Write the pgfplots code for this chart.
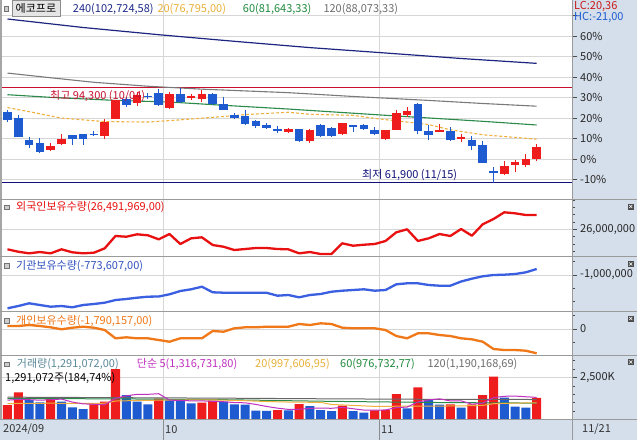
\documentclass[border=0pt]{standalone}
\usepackage{fontspec}
\setmainfont{Noto Sans CJK KR}
\usepackage{pgfplots}
\pgfplotsset{compat=1.18}
\usepackage{pgfplotstable}

\definecolor{candred}{HTML}{EE1C1C}
\definecolor{candblue}{HTML}{1E5BD0}
\definecolor{strip}{HTML}{D5DFEB}
\definecolor{gridc}{HTML}{D6D6D6}
\definecolor{sep}{HTML}{9A9A9A}
\definecolor{maA}{HTML}{1C2580}
\definecolor{maB}{HTML}{7A7A7A}
\definecolor{maC}{HTML}{2A8A4A}
\definecolor{maD}{HTML}{F0B040}
\definecolor{hiline}{HTML}{C8102E}
\definecolor{loline}{HTML}{10107A}
\definecolor{fored}{HTML}{E81010}
\definecolor{instblue}{HTML}{3A5FE0}
\definecolor{indorange}{HTML}{F07818}
\definecolor{volfive}{HTML}{C030C0}
\definecolor{volttl}{HTML}{5A8A9A}
\definecolor{tA}{HTML}{1E2A8A}
\definecolor{tD}{HTML}{E8B13A}
\definecolor{tC}{HTML}{1F8A3C}
\definecolor{tB}{HTML}{6E6E6E}

\newcommand{\ff}{\fontsize{11}{13}\selectfont}

% ---------------- price candles (index, open, high, low, close) ----------------
\pgfplotstableread{
i o h l c
4 73000 75500 72700 74400
5 75200 78500 74700 77000
9 77900 83600 76700 82700
10 83800 90300 83600 90200
12 89000 92900 88300 91900
15 87500 93100 87100 92200
17 91100 92300 90100 91500
18 90400 93500 89500 92300
26 79200 80500 78900 80400
28 76100 80400 75500 79800
31 78500 82300 78100 82200
35 77000 80000 76400 79900
36 79900 86700 79800 85800
37 85000 87800 84400 86300
40 79400 82100 79200 79800
42 77100 78700 75800 77500
46 65000 69200 64400 67500
47 67900 69600 65600 69000
48 68100 71800 67300 69900
49 70100 75200 69200 74100
}\redc
\pgfplotstableread{
i o h l c
0 86100 86700 82700 83500
1 84000 85000 77500 77600
2 76400 77500 73900 74700
3 75500 77200 72200 72300
6 78100 78300 74700 76700
7 78500 78600 74900 76700
8 78700 79500 77900 78300
11 90600 91200 87800 88400
13 91700 92600 90500 91300
14 92600 94000 88300 88500
16 92300 94300 89300 89400
19 92300 92600 88600 88700
20 88700 91200 86700 86800
21 85200 85800 83800 84100
22 84700 86700 81500 82100
23 83000 83500 80700 81300
24 81500 82300 80200 80600
25 80200 81200 78900 79800
27 80200 80300 75800 76100
29 81500 82100 77500 77800
30 80700 80800 77500 77900
32 81600 81700 79200 81200
33 81500 82100 79800 80200
34 79800 81000 78100 78700
38 88900 89000 78700 79600
39 79600 81500 76400 78300
41 79500 81000 76100 76400
43 76400 77900 73000 74400
44 74700 76100 68600 68700
45 65800 67300 61900 65400
}\bluec

% ---------------- holdings ----------------
\pgfplotstableread{
i f n p
0 25312000 -2255000 221000
1 25229000 -2168700 221000
2 25174000 -2066900 294700
3 25219000 -2131000 221000
4 25174000 -2195000 125200
5 25312000 -2169000 -22100
6 25209000 -2218000 95800
7 25174000 -2131000 169400
8 25195000 -2093000 95800
9 25346000 -2044000 -73700
10 25770000 -1942500 -685100
11 25745000 -1905000 -611500
12 25828000 -1856000 -685100
13 25794000 -1818000 -685100
14 25656000 -1810000 -810400
15 25838000 -1728000 -935600
16 25494000 -1603000 -685100
17 25690000 -1539000 -685100
18 25725000 -1441000 -685100
19 25460000 -1652000 -147300
20 25401000 -1667000 -198900
21 25288000 -1667000 51600
22 25322000 -1670000 125200
23 25357000 -1667000 125200
24 25357000 -1672000 169400
25 25322000 -1780000 169400
26 25312000 -1754000 169400
27 25174000 -1841000 368400
28 25219000 -1754000 294700
29 25150000 -1716000 419900
30 25150000 -1630000 368400
31 25518000 -1592000 95800
32 25436000 -1565500 51600
33 25470000 -1539000 51600
34 25494000 -1592000 51600
35 25598000 -1565500 -73700
36 25897000 -1350600 -515700
37 26000000 -1313000 -685100
38 25598000 -1313000 -316800
39 25690000 -1377000 -316800
40 25838000 -1403400 -442000
41 25770000 -1403400 -515700
42 26010000 -1245000 -685100
43 25780000 -1139000 -758800
44 26172000 -1049000 -935600
45 26354000 -1000000 -1473400
46 26585000 -988700 -1547100
47 26550000 -962300 -1547100
48 26492000 -898200 -1598600
49 26491969 -773607 -1790157
}\hold

% ---------------- volume ----------------
\pgfplotstableread{
i v
0 863000
1 1619000
4 1220000
8 905000
9 1060000
10 3006000
14 1250000
18 1000000
19 1119000
25 560000
27 923000
31 821000
34 545000
35 565000
36 1518000
38 1917000
41 905000
43 905000
44 1458000
45 2548000
49 1291072
}\volr
\pgfplotstableread{
i v
2 1161000
3 1024000
5 1060000
6 726000
7 625000
11 1458000
12 1060000
13 905000
15 1180000
16 1150000
17 964000
20 1060000
21 905000
22 880000
23 524000
24 510000
26 540000
28 804000
29 565000
30 506000
32 506000
33 405000
37 667000
39 1161000
40 880000
42 702000
46 1298000
47 762000
48 702000
}\volb

\pgfplotsset{
 panel/.style={
  scale only axis, width=570pt, anchor=north west,
  xmin=-0.5093, xmax=52.269,
  axis line style={draw=none},
  xtick=\empty,
  ymajorgrids, major grid style={draw=gridc, line width=0.8pt},
  ytick pos=right, yticklabel pos=right, tick align=outside,
  major tick length=5pt, minor tick length=3pt,
  every tick/.style={draw=black!70, line width=0.6pt},
  scaled y ticks=false,
  /pgf/number format/assume math mode=true,
  yticklabel style={font=\ff, anchor=west, inner sep=0pt, xshift=3pt, text=black!85},
 },
 wick/.style={forget plot, only marks, mark=*, mark options={draw opacity=0, fill opacity=0},
   error bars/.cd, y dir=both, y explicit, error mark=none,
   error bar style={#1, line width=1pt, draw opacity=1}},
 body/.style={forget plot, only marks, mark=*, mark options={draw opacity=0, fill opacity=0},
   error bars/.cd, y dir=both, y explicit, error mark=none,
   error bar style={#1, line width=8.5pt, draw opacity=1}},
}

\begin{document}
\begin{tikzpicture}[font=\ff]
\path[use as bounding box] (0pt,0pt) rectangle (637pt,-440pt);
\begin{scope}[x=1pt,y=-1pt]
\fill[white] (0,0) rectangle (637,440);
\fill[strip] (572,0) rectangle (637,440);
\fill[strip] (0,419.5) rectangle (637,440);
\fill[black!35] (0,0) rectangle (2,419.5);
\draw[gridc, line width=0.8pt] (163.3,0) -- (163.3,419.5) (379.3,0) -- (379.3,419.5);
\draw[black!45, line width=0.8pt] (163.3,419.5) -- (163.3,440) (379.3,419.5) -- (379.3,440);
\end{scope}

% ================= price =================
\begin{axis}[panel, at={(2pt,0pt)}, height=199pt,
  ymin=56324, ymax=124400,
  ytick={63000,70000,77000,84000,91000,98000,105000,112000,119000},
  yticklabels={-10\%,0\%,10\%,20\%,30\%,40\%,50\%,60\%,{}}]
\addplot[hiline, line width=1pt] coordinates {(-0.6,94300) (52.4,94300)};
\addplot[loline, line width=1.3pt] coordinates {(-0.6,61900) (52.4,61900)};
\addplot[maA, line width=1.2pt] coordinates {(0,117900) (7,114994) (14,112531) (21,110273) (28,108118) (35,106270) (42,104389) (49,102725)};
\addplot[maB, line width=1.1pt] coordinates {(0,99400) (4,97800) (8,96250) (13,94900) (18,93900) (26,92700) (32,91400) (39,90050) (44,89000) (49,88073)};
\addplot[maC, line width=1.1pt] coordinates {(0,92000) (4,91100) (10,90050) (15,89500) (20,88380) (26,87100) (35,84960) (44,82900) (49,81643)};
\addplot[maD, line width=1.1pt, dashed, dash pattern=on 3pt off 2pt] coordinates {(0,87600) (2,86200) (5,84000) (9,82800) (13,82650) (16,83400) (20,84550) (22,85200) (26,86000) (28,85300) (32,84950) (34,83900) (39,81800) (41,80000) (44,78300) (49,76795)};
\addplot[wick=candred] table[x=i, y expr={(\thisrow{h}+\thisrow{l})/2}, y error expr={(\thisrow{h}-\thisrow{l})/2}] {\redc};
\addplot[body=candred] table[x=i, y expr={(\thisrow{o}+\thisrow{c})/2}, y error expr={(\thisrow{c}-\thisrow{o})/2}] {\redc};
\addplot[wick=candblue] table[x=i, y expr={(\thisrow{h}+\thisrow{l})/2}, y error expr={(\thisrow{h}-\thisrow{l})/2}] {\bluec};
\addplot[body=candblue] table[x=i, y expr={(\thisrow{o}+\thisrow{c})/2}, y error expr={(\thisrow{o}-\thisrow{c})/2}] {\bluec};
\end{axis}

% ================= foreign =================
\begin{axis}[panel, at={(2pt,-199pt)}, height=57pt,
  ymin=25082000, ymax=27042000,
  ytick={26000000}, yticklabels={26{,}000{,}000},
  minor ytick={25250000,25500000,25750000,26250000,26500000,26750000,27000000}]
\addplot[fored, line width=2.3pt, line join=round] table[x=i, y=f] {\hold};
\end{axis}

% ================= institution =================
\begin{axis}[panel, at={(2pt,-256pt)}, height=55pt,
  ymin=-2357200, ymax=-283700,
  ytick={-1000000}, yticklabels={-1{,}000{,}000},
  minor ytick={-2000000,-1500000,-500000}]
\addplot[instblue, line width=2.3pt, line join=round] table[x=i, y=n] {\hold};
\end{axis}

% ================= individual =================
\begin{axis}[panel, at={(2pt,-311pt)}, height=44pt,
  ymin=-1915000, ymax=1326000,
  ytick={0}, yticklabels={0},
  minor ytick={-1000000,1000000}]
\addplot[indorange, line width=2.3pt, line join=round] table[x=i, y=p] {\hold};
\end{axis}

% ================= volume =================
\begin{axis}[panel, at={(2pt,-355pt)}, height=64.5pt,
  ymin=0, ymax=3839000,
  ytick={2500000}, yticklabels={2{,}500K},
  minor ytick={500000,1000000,1500000,2000000,3000000,3500000}]
\addplot[ybar, bar width=9pt, bar shift=0pt, fill=candred, draw=none] table[x=i, y=v] {\volr};
\addplot[ybar, bar width=9pt, bar shift=0pt, fill=candblue, draw=none] table[x=i, y=v] {\volb};
\addplot[black!60, line width=1pt] coordinates {(0,1330000) (10,1300000) (20,1270000) (30,1230000) (40,1200000) (49,1190169)};
\addplot[maC, line width=1pt] coordinates {(0,1250000) (10,1230000) (20,1180000) (30,1080000) (40,1010000) (49,976733)};
\addplot[maD, line width=1pt] coordinates {(0,950000) (2,960000) (4,970000) (6,960000) (8,960000) (9,970000) (10,1100000) (12,1130000) (14,1150000) (16,1160000) (19,1168000) (22,1120000) (24,1070000) (26,1040000) (29,1019000) (30,894000) (32,840000) (34,780000) (36,790000) (39,796000) (42,810000) (44,843000) (45,940000) (47,975000) (49,997607)};
\addplot[volfive, line width=1pt] coordinates {(0,1150000) (1,1200000) (2,1180000) (3,1150000) (4,1177000) (5,1217000) (6,1038000) (7,931000) (8,907000) (9,875000) (10,1264000) (11,1411000) (12,1498000) (13,1498000) (14,1536000) (15,1153000) (16,1133000) (17,1112000) (18,1109000) (19,1083000) (20,1059000) (21,1010000) (22,994000) (23,898000) (24,776000) (25,676000) (26,603000) (27,611000) (28,666000) (29,678000) (30,668000) (31,724000) (32,640000) (33,561000) (34,557000) (35,569000) (36,708000) (37,740000) (38,1042000) (39,1166000) (40,1229000) (41,1106000) (42,1113000) (43,914000) (44,973000) (45,1304000) (46,1382000) (47,1394000) (48,1354000) (49,1316732)};
\end{axis}

% ================= decorations & text =================
\begin{scope}[x=1pt,y=-1pt]
\draw[sep, line width=0.8pt] (0,199) -- (637,199) (0,256) -- (637,256) (0,311) -- (637,311) (0,355) -- (637,355) (0,419.5) -- (637,419.5);
\draw[sep, line width=0.8pt] (572,0) -- (572,440);
% title row
\draw[fill=black!20, draw=black!55] (4,6.5) rectangle (8.5,11);
\node[anchor=west, draw=black!45, fill=black!10, inner xsep=4pt, inner ysep=0pt, minimum height=16pt] at (11.5,8.5) {에코프로};
\node[anchor=west, inner sep=0pt, text=tA] at (72.7,9) {240(102,724,58)};
\node[anchor=west, inner sep=0pt, text=tD] at (157.3,9) {20(76,795,00)};
\node[anchor=west, inner sep=0pt, text=tC] at (242.7,9) {60(81,643,33)};
\node[anchor=west, inner sep=0pt, text=tB] at (323.3,9) {120(88,073,33)};
\node[anchor=west, inner sep=0pt, text=candred!85!black] at (574,6.5) {LC:20,36};
\node[anchor=west, inner sep=0pt, text=candblue] at (574,17.5) {HC:-21,00};
\node[anchor=west, inner sep=0pt, text=hiline] at (50,96.5) {최고 94,300 (10/04)};
\node[anchor=west, inner sep=0pt, text=loline] at (362,175) {최저 61,900 (11/15)};
% sub panels
\foreach \yy in {207,265.7,320.7,364} {\draw[fill=black!20, draw=black!55] (4.5,\yy-2.3) rectangle (9,\yy+2.2);}
\node[anchor=west, inner sep=0pt, text=fored] at (16,207) {외국인보유수량(26,491,969,00)};
\node[anchor=west, inner sep=0pt, text=instblue!85!black] at (16,265.7) {기관보유수량(-773,607,00)};
\node[anchor=west, inner sep=0pt, text=indorange] at (16,320.7) {개인보유수량(-1,790,157,00)};
\node[anchor=west, inner sep=0pt, text=volttl] at (16.7,364) {거래량(1,291,072,00)};
\node[anchor=west, inner sep=0pt, text=volfive] at (136.7,364) {단순 5(1,316,731,80)};
\node[anchor=west, inner sep=0pt, text=tD] at (255,364) {20(997,606,95)};
\node[anchor=west, inner sep=0pt, text=tC] at (340,364) {60(976,732,77)};
\node[anchor=west, inner sep=0pt, text=tB] at (427.3,364) {120(1,190,168,69)};
\node[anchor=west, inner sep=0pt, text=black] at (5,378) {1,291,072주(184,74\%)};
% close buttons
\foreach \yy in {206.5,264,318.5,362} {
  \fill[black!70] (627.5,\yy-3) rectangle (634,\yy+3);
  \draw[white, line width=0.6pt] (629.2,\yy-1.5) -- (632.3,\yy+1.5) (629.2,\yy+1.5) -- (632.3,\yy-1.5);
}
% dates
\node[anchor=west, inner sep=0pt, text=black!80] at (3,429.5) {2024/09};
\node[anchor=west, inner sep=0pt, text=black!80] at (165,429.5) {10};
\node[anchor=west, inner sep=0pt, text=black!80] at (381,429.5) {11};
\node[anchor=west, inner sep=0pt, text=black!80] at (582,429.5) {11/21};
\end{scope}
\end{tikzpicture}
\end{document}
